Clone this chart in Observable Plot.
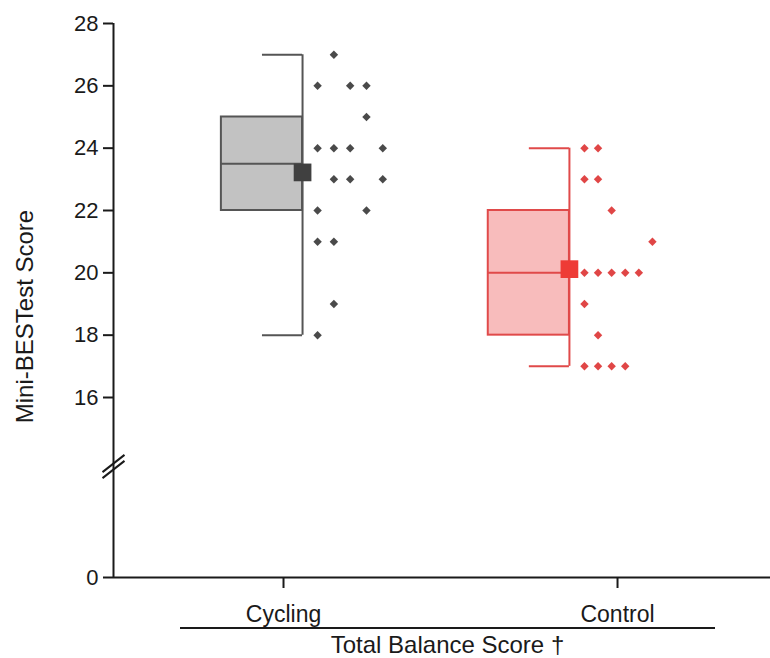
<!DOCTYPE html>
<html>
<head>
<meta charset="utf-8">
<script src="https://cdn.jsdelivr.net/npm/d3@7"></script>
<script src="https://cdn.jsdelivr.net/npm/@observablehq/plot@0.6"></script>
<style>
  html, body { margin: 0; padding: 0; background: #fff; }
  #chart { width: 770px; font-family: "Liberation Sans", Arial, sans-serif; color: #1a1a1a; }
  #chart svg { display: block; }
  .group-caption {
    margin: -1px 0 0 180px;
    width: 535px;
    border-top: 2px solid #1a1a1a;
    padding-top: 5px;
    text-align: center;
    font-size: 24px;
    line-height: 22px;
  }
</style>
</head>
<body>
<div id="chart"></div>
<script>
// Mini-BESTest total balance scores by group
const groups = ["Cycling", "Control"];

// individual participant scores and the column each dot sits in beside its box
const cyclingScores  = [27, 26, 26, 26, 25, 24, 24, 24, 24, 23, 23, 23, 22, 22, 21, 21, 19, 18];
const cyclingColumns = [ 2,  1,  3,  4,  4,  1,  2,  3,  5,  2,  3,  5,  1,  4,  1,  2,  2,  1];
const controlScores  = [24, 24, 23, 23, 22, 21, 20, 20, 20, 20, 20, 19, 18, 17, 17, 17, 17];
const controlColumns = [ 1,  2,  1,  2,  3,  6,  1,  2,  3,  4,  5,  1,  2,  1,  2,  3,  4];

// box-and-whisker summaries (Cycling, Control)
const whiskerLow  = [18, 17];
const quartile1   = [22, 18];
const medians     = [23.5, 20];
const quartile3   = [25, 22];
const whiskerHigh = [27, 24];

// y axis tick values (the axis is broken between 0 and 16)
const yTicks = [0, 16, 18, 20, 22, 24, 26, 28];

// ---- layout and styling ----
const W = 770, H = 628;
const frameTop = 23, frameBottom = 577, breakPx = 466;
const breakValue = 28 - (breakPx - frameTop) * 12 / (397 - frameTop);
const xDomain = [-0.509, 1.458];
const whiskerX = [0.057, 0.856];
const boxWidth = 0.243, capWidth = 0.12, firstGap = 0.045;
const columnStep = [0.0488, 0.0407];
const palette = [
  {fill: "#c2c2c2", stroke: "#555555", dot: "#4a4a4a", mean: "#404040"},
  {fill: "#f8bcbc", stroke: "#e04a4a", dot: "#e04646", mean: "#ee3b36"}
];

const scoreSets = [cyclingScores, controlScores];
const columnSets = [cyclingColumns, controlColumns];

const summary = groups.map((g, i) => ({
  group: g,
  x: whiskerX[i],
  left: whiskerX[i] - boxWidth,
  capLeft: whiskerX[i] - capWidth,
  lo: whiskerLow[i], q1: quartile1[i], med: medians[i], q3: quartile3[i], hi: whiskerHigh[i],
  mean: d3.mean(scoreSets[i]),
  fill: palette[i].fill, stroke: palette[i].stroke, meanColor: palette[i].mean
}));

const points = groups.flatMap((g, i) => scoreSets[i].map((s, k) => ({
  group: g,
  score: s,
  x: whiskerX[i] + firstGap + (columnSets[i][k] - 1) * columnStep[i],
  color: palette[i].dot
})));

// two short parallel slashes marking the break in the y axis
const axisBreak = {
  draw(context) {
    context.moveTo(-11, 5.6);  context.lineTo(11, -11.6);
    context.moveTo(-11, 11.6); context.lineTo(11, -5.6);
  }
};

const chart = Plot.plot({
  width: W,
  height: H,
  marginLeft: 113,
  marginRight: 0,
  marginTop: frameTop,
  marginBottom: H - frameBottom,
  style: {fontFamily: "'Liberation Sans', Arial, sans-serif", color: "#1a1a1a", background: "#fff"},
  color: {type: "identity"},
  x: {domain: xDomain, axis: null},
  y: {type: "linear", domain: [0, breakValue, 28], range: [frameBottom, breakPx, frameTop], axis: null},
  marks: [
    // boxes
    Plot.rect(summary, {x1: "left", x2: "x", y1: "q1", y2: "q3", fill: "fill", stroke: "stroke", strokeWidth: 2}),
    Plot.ruleY(summary, {y: "med", x1: "left", x2: "x", stroke: "stroke", strokeWidth: 2}),
    // whiskers and caps
    Plot.ruleX(summary, {x: "x", y1: "lo", y2: "hi", stroke: "stroke", strokeWidth: 2}),
    Plot.ruleY(summary, {y: "lo", x1: "capLeft", x2: "x", stroke: "stroke", strokeWidth: 2}),
    Plot.ruleY(summary, {y: "hi", x1: "capLeft", x2: "x", stroke: "stroke", strokeWidth: 2}),
    // individual scores
    Plot.dot(points, {x: "x", y: "score", symbol: "diamond2", r: 3.8, fill: "color", stroke: null}),
    // group means
    Plot.dot(summary, {x: "x", y: "mean", symbol: "square", r: 10, fill: "meanColor", stroke: null}),
    // axis lines
    Plot.ruleX([xDomain[0]], {stroke: "#1a1a1a", strokeWidth: 2}),
    Plot.ruleY([0], {stroke: "#1a1a1a", strokeWidth: 2}),
    Plot.dot([breakValue], {x: () => xDomain[0], y: d => d, symbol: axisBreak, stroke: "#1a1a1a", strokeWidth: 2, fill: "none"}),
    Plot.axisY({ticks: yTicks, tickFormat: d => String(d), tickSize: 10, tickPadding: 5, fontSize: 22, label: null, stroke: "#1a1a1a", strokeWidth: 2}),
    Plot.axisX({ticks: [0, 1], tickFormat: i => groups[i], tickSize: 11, tickPadding: 17, fontSize: 23, label: null, stroke: "#1a1a1a", strokeWidth: 2}),
    Plot.text(["Mini-BESTest Score"], {frameAnchor: "left", textAnchor: "middle", text: d => d, rotate: -90, dx: -88, dy: 16, fontSize: 24, fill: "#1a1a1a"})
  ]
});

const root = document.getElementById("chart");
root.appendChild(chart);
const caption = document.createElement("div");
caption.className = "group-caption";
caption.textContent = "Total Balance Score \u2020";
root.appendChild(caption);
</script>
</body>
</html>
